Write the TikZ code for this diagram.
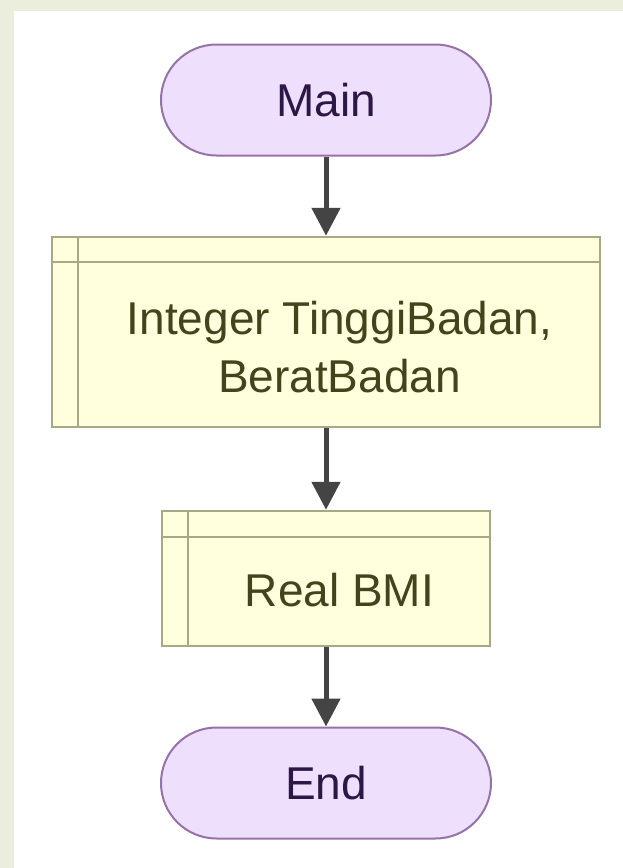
\documentclass[tikz,border=0pt]{standalone}
\usepackage{fontspec}
\setmainfont{Liberation Sans}
\usetikzlibrary{arrows.meta}

\definecolor{pageframe}{HTML}{EBEEDD}
\definecolor{termfill}{HTML}{EEDFFD}
\definecolor{termline}{HTML}{9673A6}
\definecolor{termtext}{HTML}{2D1745}
\definecolor{procfill}{HTML}{FFFFDE}
\definecolor{procline}{HTML}{A8A886}
\definecolor{proctext}{HTML}{43431C}
\definecolor{flowline}{HTML}{444444}

\tikzset{
  terminal/.style={draw=termline, fill=termfill, line width=2pt,
    rounded corners=55.5pt, minimum width=330pt, minimum height=111pt,
    inner sep=0pt, text=termtext, font=\fontsize{46}{58}\selectfont},
  procbox/.style={draw=procline, fill=procfill, line width=2.5pt, inner sep=0pt},
  proctxt/.style={text=proctext, align=center, inner sep=0pt,
    font=\fontsize{46}{58}\selectfont},
  procrule/.style={draw=procline, line width=2.5pt},
  flow/.style={draw=flowline, line width=5pt,
    -{Triangle[length=28pt,width=28pt]}}
}

\begin{document}
\begin{tikzpicture}[x=1pt,y=-1pt]
  % page: light frame on the top and left, white sheet
  \fill[pageframe] (0,0) rectangle (623,868);
  \fill[white] (14,11) rectangle (623,868);
  \useasboundingbox (0,0) rectangle (623,868);

  % start terminal
  \node[terminal] (main) at (326,100) {Main};

  % declaration box: Integer
  \node[procbox, minimum width=548pt, minimum height=190pt] (decl1) at (326,332) {};
  \draw[procrule] ([xshift=27pt]decl1.north west) -- ([xshift=27pt]decl1.south west);
  \draw[procrule] ([yshift=-26pt]decl1.north west) -- ([yshift=-26pt]decl1.north east);
  \node[proctxt] (decl1txt) at (339.5,347.5) {Integer TinggiBadan,\\BeratBadan};

  % declaration box: Real
  \node[procbox, minimum width=328pt, minimum height=135pt] (decl2) at (326,578.5) {};
  \draw[procrule] ([xshift=27pt]decl2.north west) -- ([xshift=27pt]decl2.south west);
  \draw[procrule] ([yshift=-27pt]decl2.north west) -- ([yshift=-27pt]decl2.north east);
  \node[proctxt] (decl2txt) at (339.5,590) {Real BMI};

  % end terminal
  \node[terminal] (end) at (326,783) {End};

  % flow connectors
  \draw[flow] (main) -- (decl1);
  \draw[flow] (decl1) -- (decl2);
  \draw[flow] (decl2) -- (end);
\end{tikzpicture}
\end{document}
